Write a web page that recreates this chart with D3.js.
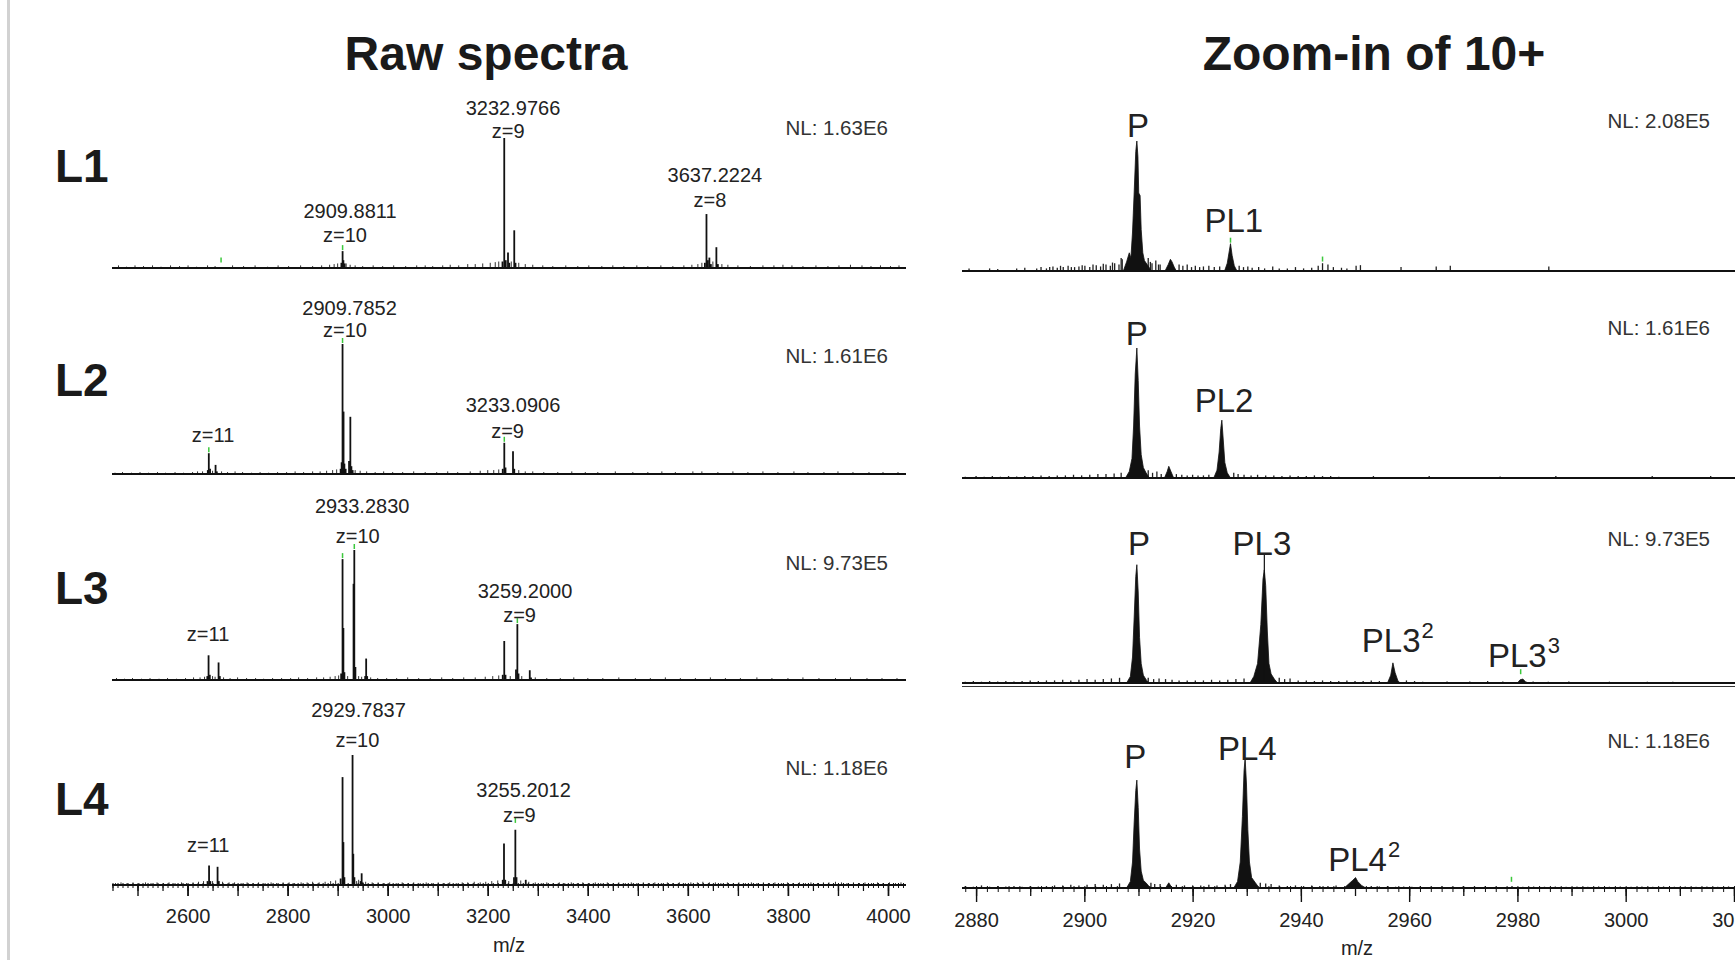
<!DOCTYPE html>
<html>
<head>
<meta charset="utf-8">
<script src="https://cdn.jsdelivr.net/npm/d3@7"></script>
<style>
  body { margin: 0; background: #fff; overflow: hidden; }
  text { font-family: "Liberation Sans", Arial, Helvetica, sans-serif; }
</style>
</head>
<body>
<svg id="chart" width="1735" height="960"></svg>
<script>
// ---------- data ----------
const rowNames = ["L1", "L2", "L3", "L4"];
const nlRaw = ["NL: 1.63E6", "NL: 1.61E6", "NL: 9.73E5", "NL: 1.18E6"];
const nlZoom = ["NL: 2.08E5", "NL: 1.61E6", "NL: 9.73E5", "NL: 1.18E6"];

const rawTickLabels = [2600, 2800, 3000, 3200, 3400, 3600, 3800, 4000];
const zoomTickLabels = [2880, 2900, 2920, 2940, 2960, 2980, 3000, 3020];

// raw spectra: [m/z, relative intensity] sticks
const rawPeaksL1 = [[2907.5,0.04],[2909.9,0.13],[2911.5,0.06],[2914,0.035],[3229.5,0.05],[3233.0,1.0],[3236,0.06],[3240.5,0.12],[3243,0.04],[3253,0.29],[3255.5,0.04],
  [3634,0.04],[3637.2,0.415],[3640,0.06],[3643,0.08],[3646,0.03],[3657,0.16],[3660,0.03]];
const rawPeaksL2 = [[2640.5,0.03],[2642.5,0.16],[2645,0.04],[2656,0.07],[2658.5,0.02],
  [2906,0.04],[2908,0.09],[2909.8,1.0],[2911.8,0.48],[2913.5,0.08],[2916,0.04],[2922.8,0.1],[2925.4,0.44],[2927.5,0.06],[2930,0.03],
  [3230,0.04],[3233.1,0.24],[3235.5,0.05],[3250.5,0.175],[3253,0.04]];
const rawPeaksL3 = [[2639.5,0.03],[2642,0.19],[2644.5,0.04],[2662,0.135],[2664.5,0.03],
  [2907,0.05],[2909.8,0.93],[2911.5,0.4],[2913.5,0.06],[2931.8,0.74],[2933.3,1.0],[2935.5,0.1],[2955,0.03],[2957,0.165],[2959,0.03],
  [3230,0.04],[3233,0.30],[3235.5,0.04],[3256.5,0.08],[3259.2,0.43],[3261.5,0.05],[3284,0.075],[3286.5,0.02]];
const rawPeaksL4 = [[2640,0.03],[2643,0.15],[2645.5,0.03],[2660,0.14],[2662.5,0.03],
  [2906,0.05],[2909.8,0.83],[2911.5,0.33],[2913.5,0.06],[2929.8,1.0],[2931.3,0.24],[2933.5,0.06],[2946,0.03],[2948,0.09],[2950,0.02],
  [3230,0.04],[3232.5,0.32],[3235,0.04],[3252.5,0.06],[3255.2,0.425],[3257.5,0.06],[3276,0.04]];

// raw spectra baseline noise sticks
const rawNoiseL1 = [[2462,.02],[2478,.01],[2495,.02],[2512,.015],[2530,.02],[2547,.01],[2566,.02],[2584,.015],[2601,.02],[2618,.01],[2640,.02],[2655,.015],[2690,.02],[2712,.015],[2735,.02],[2760,.01],[2781,.02],[2802,.015],[2826,.02],[2850,.015],[2868,.02],[2884,.025],[2893,.03],[2900,.035],[2917,.035],[2925,.025],[2935,.02],[2950,.015],[2971,.02],[2990,.015],[3012,.02],[3036,.015],[3058,.02],[3075,.02],[3090,.015],[3110,.02],[3125,.025],[3142,.02],[3160,.03],[3175,.03],[3190,.035],[3205,.04],[3215,.045],[3222,.05],[3247,.05],[3262,.04],[3275,.03],[3290,.025],[3310,.02],[3330,.015],[3356,.02],[3380,.015],[3402,.02],[3428,.015],[3450,.02],[3472,.015],[3498,.02],[3520,.015],[3546,.02],[3570,.015],[3592,.02],[3608,.025],[3620,.03],[3628,.04],[3650,.05],[3668,.03],[3680,.025],[3700,.02],[3725,.015],[3750,.02],[3772,.02],[3790,.025],[3808,.02],[3830,.015],[3856,.02],[3880,.015],[3902,.02],[3925,.025],[3948,.02],[3966,.015],[3985,.02],[4005,.015],[4022,.02]];
const rawNoiseL2 = [[2455,.01],[2470,.015],[2488,.01],[2505,.015],[2522,.01],[2540,.015],[2556,.01],[2575,.015],[2592,.01],[2610,.015],[2620,.02],[2630,.02],[2650,.025],[2668,.02],[2680,.015],[2695,.02],[2710,.015],[2728,.01],[2745,.015],[2762,.01],[2780,.015],[2798,.015],[2815,.02],[2832,.015],[2850,.02],[2865,.02],[2878,.025],[2890,.03],[2898,.035],[2935,.03],[2945,.025],[2958,.02],[2975,.015],[2992,.02],[3010,.015],[3030,.015],[3052,.02],[3075,.015],[3098,.015],[3120,.02],[3140,.015],[3165,.02],[3185,.025],[3200,.03],[3212,.03],[3222,.035],[3262,.03],[3275,.02],[3290,.02],[3312,.015],[3340,.015],[3368,.02],[3395,.015],[3420,.015],[3455,.02],[3490,.015],[3520,.015],[3548,.02],[3575,.015],[3610,.02],[3628,.02],[3660,.015],[3690,.02],[3720,.015],[3750,.02],[3780,.015],[3812,.02],[3840,.015],[3872,.015],[3900,.02],[3930,.015],[3962,.015],[3990,.015],[4020,.015]];
const rawNoiseL3 = [[2458,.015],[2474,.01],[2490,.015],[2508,.01],[2525,.015],[2543,.01],[2560,.015],[2578,.01],[2596,.015],[2612,.02],[2625,.02],[2634,.025],[2650,.03],[2655,.025],[2672,.02],[2685,.015],[2700,.02],[2718,.015],[2736,.015],[2752,.01],[2770,.015],[2788,.015],[2806,.015],[2822,.02],[2840,.015],[2858,.02],[2872,.02],[2885,.025],[2895,.03],[2902,.035],[2920,.03],[2942,.03],[2948,.025],[2966,.02],[2980,.015],[2998,.015],[3018,.015],[3040,.02],[3062,.015],[3085,.015],[3108,.02],[3130,.015],[3152,.02],[3175,.02],[3195,.025],[3210,.03],[3222,.035],[3245,.03],[3268,.03],[3295,.02],[3318,.015],[3345,.015],[3372,.02],[3400,.015],[3430,.015],[3462,.02],[3495,.015],[3525,.015],[3555,.02],[3585,.015],[3615,.015],[3645,.02],[3675,.015],[3705,.015],[3738,.02],[3768,.015],[3800,.015],[3830,.02],[3862,.015],[3895,.015],[3925,.02],[3958,.015],[3988,.015],[4018,.015]];
const rawNoiseL4 = [[2456,.015],[2467,.02],[2479,.015],[2491,.02],[2503,.015],[2516,.02],[2527,.015],[2539,.02],[2552,.015],[2563,.02],[2575,.015],[2588,.02],[2598,.015],[2611,.02],[2622,.025],[2632,.03],[2650,.03],[2670,.025],[2683,.02],[2694,.02],[2707,.015],[2719,.02],[2731,.015],[2742,.02],[2755,.015],[2767,.02],[2778,.015],[2791,.02],[2803,.02],[2814,.015],[2827,.02],[2839,.02],[2850,.025],[2863,.02],[2875,.025],[2886,.03],[2896,.035],[2938,.03],[2942,.04],[2956,.025],[2969,.02],[2981,.02],[2993,.015],[3004,.02],[3017,.015],[3029,.02],[3041,.015],[3052,.02],[3065,.015],[3077,.02],[3088,.015],[3101,.02],[3113,.015],[3124,.02],[3137,.015],[3149,.02],[3160,.02],[3173,.025],[3185,.02],[3196,.025],[3208,.03],[3220,.035],[3242,.03],[3266,.035],[3282,.025],[3295,.02],[3307,.015],[3318,.02],[3331,.015],[3343,.02],[3354,.015],[3367,.02],[3379,.015],[3390,.02],[3403,.015],[3415,.02],[3426,.015],[3439,.02],[3451,.015],[3462,.02],[3475,.015],[3487,.02],[3498,.015],[3511,.02],[3523,.015],[3534,.02],[3547,.015],[3559,.02],[3570,.015],[3583,.02],[3595,.015],[3606,.02],[3619,.02],[3630,.025],[3643,.02],[3655,.02],[3666,.015],[3679,.02],[3691,.015],[3702,.02],[3715,.015],[3727,.02],[3738,.015],[3751,.02],[3763,.015],[3774,.02],[3787,.015],[3799,.02],[3810,.015],[3823,.02],[3835,.015],[3846,.02],[3859,.015],[3871,.02],[3882,.02],[3895,.025],[3907,.02],[3918,.015],[3931,.02],[3943,.015],[3954,.02],[3967,.015],[3979,.02],[3990,.015],[4003,.02],[4015,.015],[4026,.02]];

// zoom-in of 10+: profile peaks, [m/z, relative intensity]
const zoomPeaksL1 = [
  [[2907.2,0],[2907.8,0.07],[2908.3,0.14],[2908.6,0.1],[2908.9,0.3],[2909.2,0.6],[2909.5,0.92],[2909.7,1.0],[2909.9,0.88],[2910.05,0.6],[2910.3,0.58],[2910.5,0.32],[2910.8,0.14],[2911.1,0.08],[2911.6,0.05],[2912.4,0]],
  [[2914.9,0],[2915.5,0.05],[2915.9,0.09],[2916.2,0.07],[2916.6,0.03],[2917.0,0]],
  [[2925.9,0],[2926.4,0.06],[2926.8,0.16],[2927.0,0.21],[2927.3,0.12],[2927.7,0.04],[2928.2,0]]
];
const zoomPeaksL2 = [
  [[2907.6,0],[2908.3,0.05],[2908.8,0.15],[2909.1,0.4],[2909.4,0.8],[2909.7,1.0],[2909.95,0.75],[2910.2,0.4],[2910.5,0.18],[2910.9,0.08],[2911.4,0.04],[2912.0,0]],
  [[2914.8,0],[2915.3,0.05],[2915.6,0.09],[2916.0,0.05],[2916.5,0]],
  [[2923.9,0],[2924.5,0.06],[2924.9,0.2],[2925.2,0.38],[2925.4,0.445],[2925.65,0.3],[2925.95,0.12],[2926.4,0.04],[2927.0,0]]
];
const zoomPeaksL3 = [
  [[2907.8,0],[2908.5,0.05],[2908.9,0.2],[2909.2,0.5],[2909.5,0.82],[2909.7,0.91],[2909.95,0.7],[2910.2,0.35],[2910.5,0.15],[2910.9,0.06],[2911.5,0.02],[2912,0]],
  [[2930.6,0],[2931.3,0.05],[2932.0,0.15],[2932.6,0.45],[2933.0,0.8],[2933.25,0.87],[2933.5,0.75],[2933.8,0.4],[2934.1,0.15],[2934.5,0.07],[2935.1,0.03],[2935.7,0]],
  [[2956.0,0],[2956.6,0.06],[2957.0,0.155],[2957.4,0.08],[2957.9,0.02],[2958.3,0]],
  [[2980.0,0],[2980.5,0.025],[2981.0,0.03],[2981.5,0.01],[2982,0]]
];
const zoomPeaksL4 = [
  [[2907.8,0],[2908.5,0.05],[2908.9,0.2],[2909.2,0.5],[2909.5,0.75],[2909.7,0.83],[2909.95,0.62],[2910.2,0.3],[2910.5,0.13],[2910.9,0.06],[2911.6,0.03],[2912.2,0]],
  [[2915.0,0],[2915.6,0.04],[2916.2,0]],
  [[2927.6,0],[2928.3,0.05],[2928.8,0.2],[2929.2,0.55],[2929.5,0.9],[2929.7,1.0],[2929.95,0.8],[2930.2,0.45],[2930.5,0.2],[2930.9,0.08],[2931.6,0.04],[2932.3,0]],
  [[2948.0,0],[2948.8,0.03],[2949.6,0.06],[2950.1,0.08],[2950.5,0.05],[2951.2,0.02],[2952,0]]
];
// thin centroid sticks drawn over the profiles
const zoomSticks = [[], [], [[2933.25,0.985]], []];

// zoom-in baseline noise sticks
const zoomNoiseL1 = [[2878.7,.02],[2882.5,.02],[2884,.015],[2887.5,.02],[2889,.025],[2891.2,.02],[2892,.03],[2893,.02],[2893.6,.03],[2894.2,.035],[2895,.025],[2895.6,.04],[2896.1,.03],[2897,.04],[2897.6,.03],[2898.2,.03],[2899,.035],[2899.6,.045],[2900.1,.04],[2901,.03],[2901.6,.05],[2902.2,.045],[2903,.035],[2903.5,.055],[2904,.05],[2904.8,.04],[2905.2,.065],[2905.6,.06],[2906.4,.05],[2906.8,.1],[2907,.09],[2911.8,.1],[2912.2,.07],[2912.5,.06],[2913.2,.08],[2913.7,.05],[2914,.05],[2917.5,.05],[2918.2,.04],[2919,.05],[2919.8,.03],[2920.5,.04],[2921.3,.03],[2922,.035],[2923,.04],[2924,.03],[2925,.035],[2928.6,.04],[2929.4,.03],[2930.2,.035],[2931,.025],[2932.2,.03],[2933.3,.02],[2934.8,.035],[2936,.02],[2937.5,.02],[2939,.03],[2940.5,.02],[2942,.025],[2943.2,.04],[2944,.06],[2945,.05],[2946,.03],[2947.5,.025],[2948.5,.02],[2950.2,.04],[2951,.045],[2958.5,.03],[2965,.035],[2967.6,.04],[2985.8,.035]];
const zoomNoiseL2 = [[2878,.01],[2880,.015],[2881.5,.01],[2883,.015],[2884.5,.01],[2886,.015],[2887.5,.012],[2889,.015],[2890.5,.015],[2892,.02],[2893.5,.015],[2895,.02],[2896.5,.02],[2898,.025],[2899.5,.02],[2901,.025],[2902.5,.03],[2904,.03],[2905.5,.035],[2906.8,.04],[2911.8,.06],[2912.6,.04],[2913.4,.05],[2914.2,.03],[2917,.03],[2918,.025],[2919,.02],[2920,.025],[2921,.02],[2922,.02],[2923,.025],[2927.6,.04],[2928.4,.03],[2929.5,.025],[2930.8,.02],[2932,.025],[2933.5,.02],[2935,.02],[2936.5,.015],[2938,.02],[2939.5,.015],[2941,.015],[2942.5,.02],[2944,.015],[2945.5,.015],[2947,.01],[2953.4,.015],[2963.7,.015],[2976.8,.012],[2987.1,.015],[3004.9,.015],[3015.7,.015]];
const zoomNoiseL3 = [[2878,.01],[2879.5,.015],[2881,.01],[2882.5,.015],[2884,.012],[2885.5,.015],[2887,.012],[2888.5,.015],[2890,.02],[2891.5,.015],[2893,.02],[2894.5,.02],[2896,.025],[2897.5,.02],[2899,.025],[2900.5,.03],[2902,.025],[2903.5,.03],[2905,.035],[2906.5,.04],[2911.8,.04],[2912.8,.03],[2913.8,.035],[2915,.03],[2916.2,.025],[2917.5,.02],[2919,.02],[2920.5,.02],[2922,.02],[2923.5,.025],[2925,.02],[2926.5,.025],[2928,.03],[2929.5,.035],[2936,.04],[2937,.03],[2938,.035],[2939.5,.02],[2941,.02],[2942.5,.015],[2944,.02],[2945.5,.015],[2947,.015],[2948.5,.02],[2950,.015],[2951.5,.015],[2953,.02],[2954.5,.015],[2959.5,.02],[2961,.015],[2962.5,.01],[2967,.012],[2971.2,.012],[2974.5,.015],[2977.3,.012],[2982.9,.012],[2985.7,.01],[2989.5,.012],[2997,.01],[3004,.01],[3008.7,.01]];
const zoomNoiseL4 = [[2878,.015],[2879.5,.01],[2881,.02],[2882.5,.01],[2884,.015],[2885.5,.012],[2887,.015],[2888.5,.01],[2890,.015],[2891.5,.012],[2893,.015],[2894.5,.02],[2896,.02],[2897.5,.025],[2899,.02],[2900.5,.025],[2902,.03],[2903.5,.025],[2905,.03],[2906.5,.035],[2912.3,.04],[2913,.03],[2914,.03],[2917,.025],[2918.5,.02],[2920,.02],[2921.5,.02],[2923,.025],[2924.5,.02],[2926,.025],[2927,.03],[2932.5,.04],[2933.5,.035],[2934.5,.03],[2936,.02],[2937.5,.015],[2939,.02],[2940.5,.015],[2942,.02],[2943.5,.015],[2945,.015],[2946.5,.02],[2953,.015],[2954.5,.012],[2956,.015],[2957.5,.01],[2959,.012],[2960.5,.01],[2962,.012],[2964,.01],[2966,.012],[2968,.01],[2970,.015],[2972,.01],[2974,.012],[2976,.01],[2979,.015],[2981,.01],[2983,.012],[2985,.01],[2987,.012],[2989,.01],[2991,.012],[2993,.01],[2995,.012],[2997,.01],[2999,.012],[3001,.01],[3003,.012],[3005,.01],[3007,.012],[3009,.01],[3011,.012],[3013,.01],[3015,.012],[3017,.01],[3019,.012]];

// peak annotations: [m/z anchor, relative height of text baseline, text, superscript]
const rawLabels = [
  [[3250.5,1.177,"3232.9766"],[3241,1.0,"z=9"],[2924.7,0.382,"2909.8811"],[2914.7,0.202,"z=10"],[3654,0.658,"3637.2224"],[3644,0.473,"z=8"]],
  [[2923.9,1.223,"2909.7852"],[2914.7,1.054,"z=10"],[2651,0.248,"z=11"],[3250.5,0.479,"3233.0906"],[3239.7,0.277,"z=9"]],
  [[2949,1.282,"2933.2830"],[2940.2,1.052,"z=10"],[2641,0.3,"z=11"],[3274.5,0.628,"3259.2000"],[3263.7,0.448,"z=9"]],
  [[2941.7,1.292,"2929.7837"],[2939.5,1.062,"z=10"],[2641.3,0.254,"z=11"],[3271.7,0.677,"3255.2012"],[3263.1,0.485,"z=9"]]
];
const zoomLabels = [
  [[2909.9,1.033,"P"],[2927.6,0.302,"PL1"]],
  [[2909.7,1.023,"P"],[2925.8,0.51,"PL2"]],
  [[2910.1,0.985,"P"],[2932.8,0.985,"PL3"],[2957.9,0.241,"PL3","2"],[2981.2,0.125,"PL3","3"]],
  [[2909.4,0.923,"P"],[2930.1,0.985,"PL4"],[2951.7,0.131,"PL4","2"]]
];
// green peak markers: [m/z, relative height]
const rawGreen = [[[2667,0.035],[2909.9,0.13]], [[2642.5,0.16],[2909.8,1.0],[3233.1,0.24]], [[2909.8,0.93],[2933.3,1.0],[3259.2,0.43]], [[3255.2,0.47]]];
const zoomGreen = [[[2927.0,0.21],[2944.0,0.065]], [], [[2980.6,0.06]], [[2978.9,0.04]]];

const rawPeaks = [rawPeaksL1, rawPeaksL2, rawPeaksL3, rawPeaksL4];
const rawNoise = [rawNoiseL1, rawNoiseL2, rawNoiseL3, rawNoiseL4];
const zoomPeaks = [zoomPeaksL1, zoomPeaksL2, zoomPeaksL3, zoomPeaksL4];
const zoomNoise = [zoomNoiseL1, zoomNoiseL2, zoomNoiseL3, zoomNoiseL4];

// ---------- layout ----------
const W = 1735, H = 960;
const FULL = 130;                       // px for 100 % relative abundance
const rawBase = [268, 474, 680, 885];
const zoomBase = [271, 478, 683, 888];
const rawNLy = [135, 363, 570, 775];
const zoomNLy = [128, 335, 546, 748];
const rowLabelY = [182, 396, 604, 815];
const GREEN = "#3cc83c";

const svg = d3.select("#chart");
svg.append("rect").attr("width", W).attr("height", H).attr("fill", "#fff");
// grey frame edge on the left
svg.append("rect").attr("x", 7).attr("y", 0).attr("width", 3).attr("height", H).attr("fill", "#d2d2d2");

const xRaw = d3.scaleLinear().domain([2449, 4036]).range([112, 906]);
const xZoom = d3.scaleLinear().domain([2877.4, 3032.2]).range([962, 1800]);

// titles
svg.append("text").attr("x", 486).attr("y", 70).attr("text-anchor", "middle")
  .attr("font-size", 48).attr("font-weight", "bold").attr("fill", "#1a1a1a").text("Raw spectra");
svg.append("text").attr("x", 1374).attr("y", 70).attr("text-anchor", "middle")
  .attr("font-size", 48).attr("font-weight", "bold").attr("fill", "#1a1a1a").text("Zoom-in of 10+");

rowNames.forEach((name, i) => {
  svg.append("text").attr("x", 55).attr("y", rowLabelY[i])
    .attr("font-size", 46).attr("font-weight", "bold").attr("fill", "#1a1a1a").text(name);
});

function stickLines(g, data, x, y, width, color) {
  g.selectAll(null).data(data).enter().append("line")
    .attr("x1", d => x(d[0])).attr("x2", d => x(d[0]))
    .attr("y1", y(0)).attr("y2", d => y(d[1]))
    .attr("stroke", color).attr("stroke-width", width);
}

function drawLabels(g, data, x, y, size) {
  const t = g.selectAll(null).data(data).enter().append("text")
    .attr("x", d => x(d[0])).attr("y", d => y(d[1]))
    .attr("text-anchor", "middle").attr("font-size", size).attr("fill", "#222")
    .text(d => d[2]);
  t.filter(d => d[3]).append("tspan")
    .attr("dy", -14).attr("dx", 1).attr("font-size", 22).text(d => d[3]);
}

function drawGreen(g, data, x, y) {
  g.selectAll(null).data(data).enter().append("line")
    .attr("x1", d => x(d[0])).attr("x2", d => x(d[0]))
    .attr("y1", d => y(d[1]) - 1).attr("y2", d => y(d[1]) - 6)
    .attr("stroke", GREEN).attr("stroke-width", 1.5);
}

// ---------- raw spectra ----------
for (let i = 0; i < 4; i++) {
  const y = d3.scaleLinear().domain([0, 1]).range([rawBase[i], rawBase[i] - FULL]);
  const g = svg.append("g");
  stickLines(g, rawNoise[i], xRaw, y, 1, "#333");
  stickLines(g, rawPeaks[i], xRaw, y, 1.8, "#111");
  g.append("line").attr("x1", 112).attr("x2", 906).attr("y1", y(0)).attr("y2", y(0))
    .attr("stroke", "#111").attr("stroke-width", 2);
  drawGreen(g, rawGreen[i], xRaw, y);
  drawLabels(g, rawLabels[i], xRaw, y, 20);
  g.append("text").attr("x", 888).attr("y", rawNLy[i]).attr("text-anchor", "end")
    .attr("font-size", 20.5).attr("fill", "#333").text(nlRaw[i]);
}

// ---------- zoom-in spectra ----------
for (let i = 0; i < 4; i++) {
  const y = d3.scaleLinear().domain([0, 1]).range([zoomBase[i], zoomBase[i] - FULL]);
  const g = svg.append("g");
  const area = d3.area().x(d => xZoom(d[0])).y0(y(0)).y1(d => y(d[1]));
  stickLines(g, zoomNoise[i], xZoom, y, 1.3, "#222");
  g.selectAll(null).data(zoomPeaks[i]).enter().append("path")
    .attr("d", area).attr("fill", "#111").attr("stroke", "#111").attr("stroke-width", 0.8);
  stickLines(g, zoomSticks[i], xZoom, y, 1.2, "#111");
  g.append("line").attr("x1", 962).attr("x2", W).attr("y1", y(0)).attr("y2", y(0))
    .attr("stroke", "#111").attr("stroke-width", 2);
  if (i === 2) {
    g.append("line").attr("x1", 962).attr("x2", W).attr("y1", y(0) + 3.5).attr("y2", y(0) + 3.5)
      .attr("stroke", "#333").attr("stroke-width", 1.2);
  }
  drawGreen(g, zoomGreen[i], xZoom, y);
  drawLabels(g, zoomLabels[i], xZoom, y, 33);
  g.append("text").attr("x", 1710).attr("y", zoomNLy[i]).attr("text-anchor", "end")
    .attr("font-size", 20.5).attr("fill", "#333").text(nlZoom[i]);
}

// ---------- bottom axes ----------
function tickLayer(y0, scale, values, size, width, labels) {
  const ax = d3.axisBottom(scale).tickValues(values).tickSize(size)
    .tickFormat(labels ? d3.format("d") : "");
  const g = svg.append("g").attr("transform", `translate(0,${y0})`).call(ax);
  g.select(".domain").remove();
  g.selectAll("line").attr("stroke", "#111").attr("stroke-width", width);
  return g;
}
function topTicks(y0, scale, values) {
  const g = svg.append("g").attr("transform", `translate(0,${y0})`)
    .call(d3.axisTop(scale).tickValues(values).tickSize(2).tickFormat(""));
  g.select(".domain").remove();
  g.selectAll("line").attr("stroke", "#111").attr("stroke-width", 1);
}

// raw axis
const rawMinor = d3.range(2450, 4031, 10);
topTicks(rawBase[3], xRaw, rawMinor);
tickLayer(rawBase[3], xRaw, rawMinor, 3, 1);
tickLayer(rawBase[3], xRaw, d3.range(2450, 4031, 50), 6, 1.2);
tickLayer(rawBase[3], xRaw, d3.range(2500, 4001, 100), 11, 1.4);
const rawAx = tickLayer(rawBase[3], xRaw, rawTickLabels, 11, 1.4, true);
rawAx.selectAll("text").attr("y", 38).attr("dy", 0).attr("font-size", 20)
  .attr("fill", "#222").attr("font-family", '"Liberation Sans", Arial, sans-serif');

// zoom axis
const zoomMinor = d3.range(2878, 3033, 2);
topTicks(zoomBase[3], xZoom, zoomMinor);
tickLayer(zoomBase[3], xZoom, zoomMinor, 4, 1);
tickLayer(zoomBase[3], xZoom, d3.range(2880, 3031, 10), 8, 1.3);
const zoomAx = tickLayer(zoomBase[3], xZoom, zoomTickLabels, 14, 1.4, true);
zoomAx.selectAll("text").attr("y", 39).attr("dy", 0).attr("font-size", 20)
  .attr("fill", "#222").attr("font-family", '"Liberation Sans", Arial, sans-serif');

// axis titles
svg.append("text").attr("x", 509).attr("y", 952).attr("text-anchor", "middle")
  .attr("font-size", 20).attr("fill", "#222").text("m/z");
svg.append("text").attr("x", 1357).attr("y", 955).attr("text-anchor", "middle")
  .attr("font-size", 20).attr("fill", "#222").text("m/z");
</script>
</body>
</html>
